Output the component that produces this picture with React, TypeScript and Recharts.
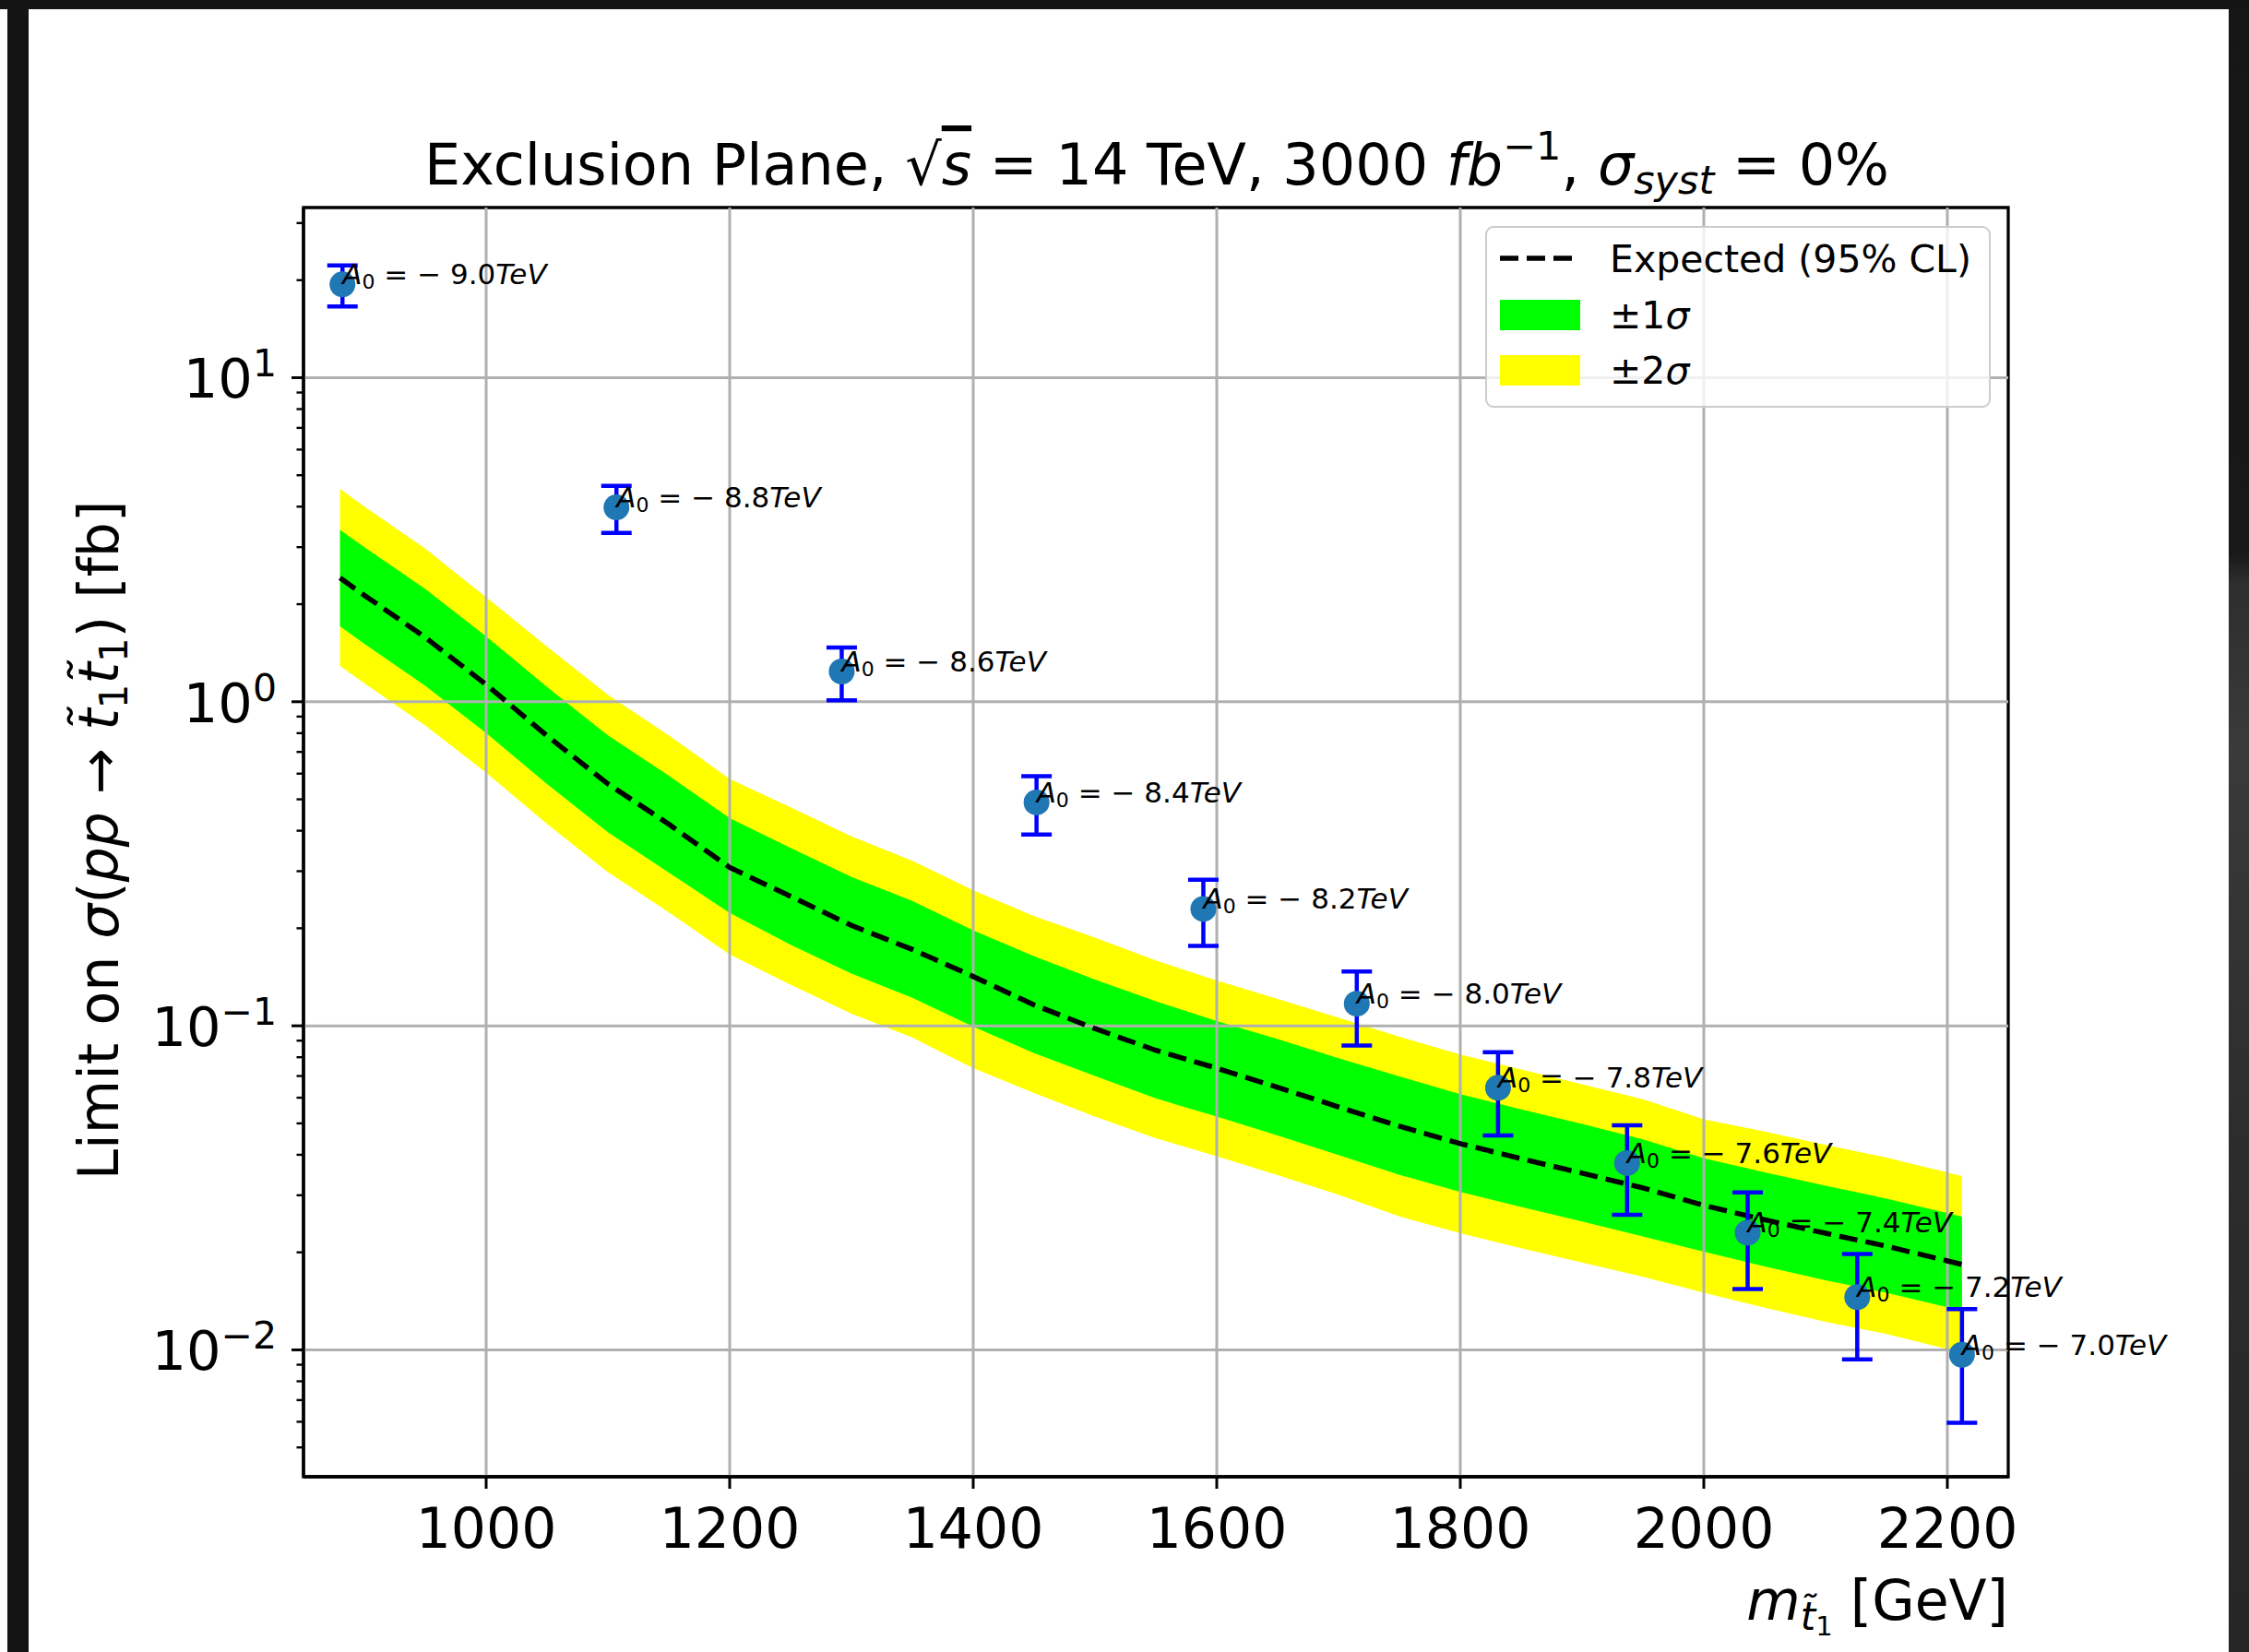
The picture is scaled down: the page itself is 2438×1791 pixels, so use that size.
import React from 'react';
import {
  Area,
  ComposedChart,
  ErrorBar,
  Legend,
  Line,
  ReferenceArea,
  ReferenceLine,
  Scatter,
  XAxis,
  YAxis,
} from 'recharts';

// signal points (one per A0 value)
const stopMass = [882, 1107, 1292, 1452, 1589, 1715, 1831, 1937, 2036, 2126, 2212];
const a0Values = [-9.0, -8.8, -8.6, -8.4, -8.2, -8.0, -7.8, -7.6, -7.4, -7.2, -7.0];
const sigmaLimit = [19.4, 3.98, 1.24, 0.489, 0.2295, 0.117, 0.0644, 0.0377, 0.023, 0.01455, 0.00966];
const sigmaErr = [2.8, 0.66, 0.23, 0.1, 0.053, 0.03, 0.0185, 0.0116, 0.0076, 0.0052, 0.0037];

// expected limit and bands
const bandMass = [880, 900, 950, 1000, 1050, 1100, 1150, 1200, 1250, 1300, 1350, 1400, 1450, 1500, 1550, 1600, 1650, 1700, 1750, 1800, 1850, 1900, 1950, 2000, 2050, 2100, 2150, 2212];
const expected = [2.41, 2.13, 1.58, 1.13, 0.785, 0.558, 0.419, 0.308, 0.251, 0.204, 0.172, 0.142, 0.116, 0.098, 0.084, 0.074, 0.0646, 0.0562, 0.049, 0.0433, 0.0389, 0.0351, 0.0316, 0.0279, 0.0252, 0.0229, 0.0209, 0.01835];
const greenLow = [1.71, 1.51, 1.12, 0.8, 0.557, 0.396, 0.297, 0.223, 0.178, 0.145, 0.122, 0.0995, 0.0823, 0.07, 0.0597, 0.0525, 0.0459, 0.0399, 0.0347, 0.0307, 0.0276, 0.0249, 0.0224, 0.0201, 0.0181, 0.0164, 0.015, 0.0132];
const greenHigh = [3.39, 3.0, 2.23, 1.59, 1.11, 0.787, 0.591, 0.4375, 0.354, 0.288, 0.243, 0.197, 0.164, 0.139, 0.119, 0.1035, 0.091, 0.0795, 0.0698, 0.0615, 0.0552, 0.0498, 0.0446, 0.039, 0.0353, 0.0321, 0.0293, 0.02576];
const yellowLow = [1.29, 1.14, 0.845, 0.604, 0.42, 0.298, 0.224, 0.166, 0.134, 0.109, 0.092, 0.074, 0.062, 0.0525, 0.045, 0.0396, 0.0346, 0.0301, 0.0258, 0.0229, 0.0206, 0.0186, 0.0168, 0.015, 0.0135, 0.0122, 0.0112, 0.0098];
const yellowHigh = [4.54, 4.0, 2.97, 2.1, 1.48, 1.05, 0.788, 0.578, 0.472, 0.384, 0.323, 0.262, 0.218, 0.187, 0.159, 0.138, 0.121, 0.106, 0.0925, 0.0815, 0.0733, 0.066, 0.0593, 0.0515, 0.0472, 0.0429, 0.0392, 0.0344];

const xTicks = [1000, 1200, 1400, 1600, 1800, 2000, 2200];
const yMajorTicks = [0.01, 0.1, 1, 10];
const yMinorTicks = [
  0.005, 0.006, 0.007, 0.008, 0.009,
  0.02, 0.03, 0.04, 0.05, 0.06, 0.07, 0.08, 0.09,
  0.2, 0.3, 0.4, 0.5, 0.6, 0.7, 0.8, 0.9,
  2, 3, 4, 5, 6, 7, 8, 9,
  20, 30,
];

const xDomain = [850, 2250];
const yDomain = [0.00406, 33.5];

const bandRows = bandMass.map((m, i) => ({
  m,
  exp: expected[i],
  green: [greenLow[i], greenHigh[i]],
  yellow: [yellowLow[i], yellowHigh[i]],
}));

const pointRows = stopMass.map((m, i) => ({
  m,
  sigma: sigmaLimit[i],
  err: sigmaErr[i],
  a0: a0Values[i],
}));

const FONT = 'DejaVu Sans';

function renderXTick(props: any) {
  const { x, y, payload } = props;
  return (
    <g>
      <line x1={x} x2={x} y1={y} y2={y + 13} stroke="#000" strokeWidth={3} />
      <text x={x} y={y + 77} textAnchor="middle" fontSize={60} fontFamily={FONT} fill="#000">
        {payload.value}
      </text>
    </g>
  );
}

function renderYTick(props: any) {
  const { x, y, payload } = props;
  const v = payload.value;
  const major = yMajorTicks.includes(v);
  if (!major) {
    return <line x1={x - 7.5} x2={x} y1={y} y2={y} stroke="#000" strokeWidth={2.4} />;
  }
  const e = Math.round(Math.log10(v));
  const expStr = e < 0 ? `\u2212${-e}` : `${e}`;
  return (
    <g>
      <line x1={x - 13} x2={x} y1={y} y2={y} stroke="#000" strokeWidth={3} />
      <text x={x - 29} y={y + 22} textAnchor="end" fontSize={59} fontFamily={FONT} fill="#000">
        10
        <tspan fontSize={41} dy={-23}>{expStr}</tspan>
      </text>
    </g>
  );
}

const renderDot = (props: any) => {
  const { cx, cy } = props;
  return <circle cx={cx} cy={cy} r={14} fill="#1f77b4" />;
};

// matplotlib-style "A_0 = -x.xTeV" text, baseline on the point
const renderA0Label = (props: any) => {
  const { cx, cy, payload } = props;
  return (
    <text x={cx} y={cy} fontSize={31} fontFamily={FONT} fill="#000">
      <tspan fontStyle="italic">A</tspan>
      <tspan fontSize={22} dy={5}>0</tspan>
      <tspan dy={-5}>{` = \u2212 ${Math.abs(payload.a0).toFixed(1)}`}</tspan>
      <tspan fontStyle="italic">TeV</tspan>
    </text>
  );
};

const legendItems = [
  { label: 'Expected (95% CL)', kind: 'line', color: '#000000' },
  { label: '\u00b11', kind: 'patch', color: '#00ff00' },
  { label: '\u00b12', kind: 'patch', color: '#ffff00' },
];

const renderLegend = () => (
  <div
    style={{
      position: 'relative',
      width: 548,
      height: 197,
      boxSizing: 'border-box',
      border: '2.5px solid #cccccc',
      borderRadius: 9,
      background: 'rgba(255,255,255,0.8)',
    }}
  >
    <svg width={548} height={197} style={{ position: 'absolute', left: -2.5, top: -2.5 }}>
      {legendItems.map((it, i) => {
        const top = 20 + i * 60;
        return (
          <g key={it.label}>
            {it.kind === 'line' ? (
              <line x1={16} x2={103} y1={top + 15} y2={top + 15} stroke="#000" strokeWidth={5.5} strokeDasharray="20 9" />
            ) : (
              <rect x={16} y={top} width={87} height={33} fill={it.color} />
            )}
            <text x={135} y={i === 0 ? 50 : top + 31} fontSize={41} fontFamily={FONT} fill="#000">
              {it.label}
              {it.kind === 'patch' && <tspan fontStyle="italic">σ</tspan>}
            </text>
          </g>
        );
      })}
    </svg>
  </div>
);

export default function App() {
  return (
    <div style={{ position: 'absolute', left: 0, top: 0, width: 2438, height: 1791, background: '#141414', overflow: 'hidden' }}>
      <div style={{ position: 'absolute', left: 0, top: 10, width: 8, height: 1781, background: '#ffffff' }} />
      <div style={{ position: 'absolute', left: 31, top: 10, width: 2385, height: 1781, background: '#ffffff' }} />
      <div
        style={{
          position: 'absolute',
          left: 2416,
          top: 10,
          width: 22,
          height: 1781,
          background: 'linear-gradient(#161616 0%, #181818 33%, #2e2e2e 35%, #3a3a3a 45%, #2c2c2c 70%, #262626 100%)',
        }}
      />
      <div style={{ position: 'absolute', left: 0, top: 0 }}>
        <ComposedChart
          width={2438}
          height={1791}
          data={bandRows}
          margin={{ top: 225, right: 261, left: 129, bottom: 90 }}
        >
          <XAxis
            dataKey="m"
            type="number"
            domain={xDomain}
            ticks={xTicks}
            interval={0}
            tick={renderXTick}
            tickLine={false}
            tickSize={0}
            tickMargin={0}
            height={100}
            axisLine={{ stroke: '#000', strokeWidth: 3.3 }}
          />
          <YAxis
            type="number"
            scale="log"
            domain={yDomain}
            ticks={[...yMinorTicks, ...yMajorTicks]}
            interval={0}
            tick={renderYTick}
            tickLine={false}
            tickSize={0}
            tickMargin={0}
            width={200}
            axisLine={{ stroke: '#000', strokeWidth: 3.3 }}
          />
          <Area
            type="linear"
            dataKey="yellow"
            stroke="none"
            fill="#ffff00"
            fillOpacity={1}
            isAnimationActive={false}
            dot={false}
            activeDot={false}
          />
          <Area
            type="linear"
            dataKey="green"
            stroke="none"
            fill="#00ff00"
            fillOpacity={1}
            isAnimationActive={false}
            dot={false}
            activeDot={false}
          />
          {xTicks.map(v => (
            <ReferenceLine key={`gx${v}`} x={v} stroke="#b0b0b0" strokeWidth={3} />
          ))}
          {yMajorTicks.map(v => (
            <ReferenceLine key={`gy${v}`} y={v} stroke="#b0b0b0" strokeWidth={3} />
          ))}
          <Line
            type="linear"
            dataKey="exp"
            stroke="#000000"
            strokeWidth={5.5}
            strokeDasharray="20 9"
            dot={false}
            activeDot={false}
            isAnimationActive={false}
          />
          <Scatter data={pointRows} dataKey="sigma" shape={renderDot} isAnimationActive={false} />
          <Scatter data={pointRows} dataKey="sigma" shape={renderA0Label} isAnimationActive={false}>
            <ErrorBar dataKey="err" direction="y" width={16.5} stroke="#0000ff" strokeWidth={4.5} isAnimationActive={false} />
          </Scatter>
          <ReferenceArea
            x1={xDomain[0]}
            x2={xDomain[1]}
            y1={yDomain[0]}
            y2={yDomain[1]}
            fill="none"
            fillOpacity={0}
            stroke="#000"
            strokeWidth={3.3}
            ifOverflow="visible"
          />
          <Legend
            content={renderLegend}
            layout="horizontal"
            verticalAlign="middle"
            align="center"
            wrapperStyle={{ position: 'absolute', left: 1610, top: 245, width: 548, height: 197 }}
          />
        </ComposedChart>
      </div>
      <svg width={2438} height={1791} style={{ position: 'absolute', left: 0, top: 0, pointerEvents: 'none' }}>
        <text x={1254} y={200} textAnchor="middle" fontSize={62} fontFamily={FONT} fill="#000">
          {'Exclusion Plane, \u221a'}
          <tspan fontStyle="italic" textDecoration="overline">s</tspan>
          {' = 14 TeV, 3000 '}
          <tspan fontStyle="italic">fb</tspan>
          <tspan fontSize={43} dy={-27}>{'\u22121'}</tspan>
          <tspan dy={27}>{', '}</tspan>
          <tspan fontStyle="italic">σ</tspan>
          <tspan fontSize={43} fontStyle="italic" dy={10}>syst</tspan>
          <tspan dy={-10}>{' = 0%'}</tspan>
        </text>
        <text
          x={128}
          y={911}
          transform="rotate(-90, 128, 911)"
          textAnchor="middle"
          fontSize={60}
          fontFamily={FONT}
          fill="#000"
        >
          {'Limit on '}
          <tspan fontStyle="italic">σ</tspan>
          {'('}
          <tspan fontStyle="italic">pp</tspan>
          {' \u2192 '}
          <tspan fontStyle="italic">{'t\u0303'}</tspan>
          <tspan fontSize={42} dy={10}>1</tspan>
          <tspan fontStyle="italic" dy={-10}>{'t\u0303'}</tspan>
          <tspan fontSize={42} dy={10}>1</tspan>
          <tspan dy={-10}>{') [fb]'}</tspan>
        </text>
        <text x={2177} y={1756} textAnchor="end" fontSize={60} fontFamily={FONT} fill="#000">
          <tspan fontStyle="italic">m</tspan>
          <tspan fontSize={42} fontStyle="italic" dy={11}>{'t\u0303'}</tspan>
          <tspan fontSize={29} dy={6}>1</tspan>
          <tspan dy={-17}>{' [GeV]'}</tspan>
        </text>
      </svg>
    </div>
  );
}
